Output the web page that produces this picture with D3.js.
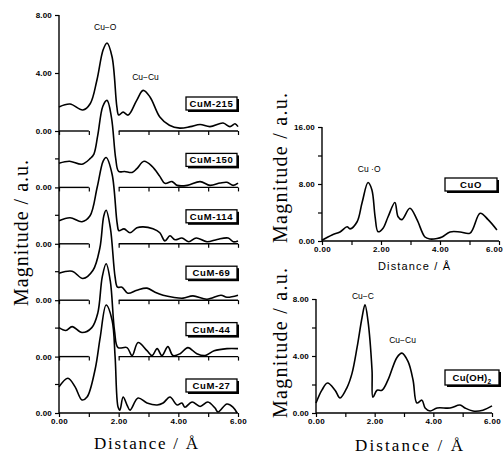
<!DOCTYPE html>
<html><head><meta charset="utf-8">
<script src="https://cdn.jsdelivr.net/npm/d3@7"></script>
<style>
body{margin:0;background:#fff;}
svg{display:block;}
</style></head>
<body>
<svg id="c" width="503" height="454"></svg>
<script>
// ---------- DATA ----------
const sampleNames = ["CuM-215", "CuM-150", "CuM-114", "CuM-69", "CuM-44", "CuM-27"];
const cuM215 = [[0,1.66],[0.37,1.86],[0.8,1.45],[1.05,1.9],[1.27,3.5],[1.48,5.6],[1.61,6.07],[1.78,5.1],[1.94,1.66],[2.0,1.1],[2.15,1.3],[2.32,1.1],[2.6,2.1],[2.82,2.8],[3.05,2.35],[3.38,0.97],[3.7,0.4],[4.05,0.2],[4.4,0.3],[4.73,0.45],[5.06,0.3],[5.5,0.55],[5.73,0.3],[5.9,0.5],[6.0,0.3]];
const cuM150 = [[0,1.66],[0.35,1.8],[0.77,1.6],[1.05,2.0],[1.17,2.3],[1.3,3.6],[1.47,5.6],[1.61,6.0],[1.76,4.8],[1.9,2.0],[2.0,1.1],[2.2,1.1],[2.45,1.03],[2.61,1.3],[2.85,1.8],[3.12,1.45],[3.38,0.76],[3.55,0.28],[3.79,0.4],[3.96,0.14],[4.3,0.14],[4.73,0.4],[5.06,0.14],[5.4,0.3],[5.63,0.35],[5.84,0.14],[6.0,0.3]];
const cuM114 = [[0,1.59],[0.37,1.8],[0.77,1.52],[1.04,1.93],[1.28,3.9],[1.48,5.7],[1.58,5.95],[1.78,4.8],[1.95,1.4],[2.01,0.9],[2.18,1.03],[2.38,0.76],[2.61,1.1],[2.82,1.17],[3.15,1.03],[3.38,0.76],[3.55,0.2],[3.72,0.55],[3.89,0.28],[4.12,0.4],[4.35,0.14],[4.6,0.4],[4.96,0.14],[5.3,0.3],[5.67,0.4],[5.84,0.14],[6.0,0.2]];
const cuM69 = [[0,1.86],[0.44,2.0],[0.8,1.5],[1.14,2.07],[1.37,3.6],[1.5,5.8],[1.58,6.2],[1.72,5.0],[1.88,1.6],[1.96,0.9],[2.11,0.9],[2.31,0.48],[2.61,0.69],[2.95,0.83],[3.22,0.55],[3.49,0.34],[3.82,0.2],[4.16,0.14],[4.49,0.3],[4.96,0.07],[5.43,0.34],[5.63,0.2],[6.0,0.34]];
const cuM44 = [[0,2.0],[0.23,1.8],[0.44,2.07],[0.77,1.66],[1.1,2.0],[1.3,3.0],[1.45,5.5],[1.58,6.4],[1.72,5.2],[1.86,1.8],[1.98,0.62],[2.28,0.62],[2.45,0.07],[2.65,0.97],[2.95,0.41],[3.12,0.07],[3.29,0.55],[3.45,0.07],[3.65,0.69],[3.82,0.07],[4.06,0.2],[4.32,0.62],[4.62,0.2],[4.9,0.07],[5.2,0.4],[5.63,0.55],[6.0,0.55]];
const cuM27 = [[0,1.8],[0.3,2.4],[0.54,1.8],[0.77,0.9],[0.94,1.1],[1.21,3.0],[1.38,5.2],[1.58,7.45],[1.78,6.4],[1.88,3.9],[1.98,0.41],[2.04,0.2],[2.15,1.1],[2.28,0.55],[2.38,0.2],[2.65,1.03],[2.95,0.69],[3.29,0.55],[3.49,0.69],[3.72,1.1],[3.96,0.55],[4.12,0.69],[4.22,0.4],[4.46,0.76],[4.73,0.45],[4.99,0.76],[5.23,0.34],[5.33,0.07],[5.63,0.62],[5.83,0.41],[5.97,0]];
const cuO = [[0,0.1],[0.34,0.85],[0.61,1.27],[0.85,2.0],[0.95,1.7],[1.19,2.7],[1.36,5.4],[1.56,8.2],[1.69,7.2],[1.8,3.4],[1.9,1.3],[2.07,1.8],[2.24,3.4],[2.47,5.4],[2.58,3.4],[2.71,3.0],[2.98,4.6],[3.22,3.0],[3.49,0.56],[3.66,0.28],[3.9,0.35],[4.07,0.56],[4.34,1.27],[4.68,1.27],[5.02,1.1],[5.36,3.9],[5.63,3.0],[5.93,1.55]];
const cuOH2 = [[0,0.7],[0.2,1.6],[0.39,2.1],[0.65,1.6],[0.82,1.05],[1.06,1.8],[1.23,2.8],[1.4,4.6],[1.57,6.7],[1.67,7.6],[1.77,6.5],[1.91,3.0],[1.94,1.1],[2.08,1.6],[2.25,1.6],[2.45,2.3],[2.76,3.9],[2.93,4.2],[3.14,3.6],[3.31,2.3],[3.44,0.7],[3.61,0.9],[3.72,0.35],[3.89,0.14],[4.13,0.35],[4.57,0.35],[4.91,0.56],[5.08,0.35],[5.35,0.14],[5.69,0.2],[6.0,0.5]];
const seriesLeft = [cuM215, cuM150, cuM114, cuM69, cuM44, cuM27];
const xTickLabels = ["0.00", "2.00", "4.00", "6.00"];
const peakLabelsLeft = [["Cu\u2212O", 1.55, 7.0], ["Cu\u2212Cu", 2.9, 3.5]];
const peakLabelsCuO = [["Cu\u00a0\u00b7O", 1.6, 9.7]];
const peakLabelsOH = [["Cu\u2212C", 1.6, 8.0], ["Cu\u2212Cu", 2.95, 4.9]];

// ---------- DRAW ----------
const svg = d3.select("#c");
const tickFont = "Arial, 'Liberation Sans', sans-serif";

function lineGen(x, y) {
  return d3.line().x(d => x(d[0])).y(d => y(d[1])).curve(d3.curveCatmullRom.alpha(0.5));
}
function drawCurve(data, x, y) {
  svg.append("path").datum(data).attr("d", lineGen(x, y))
    .attr("fill", "none").attr("stroke", "#000").attr("stroke-width", 1.6)
    .attr("stroke-linejoin", "round");
}
function xAxis(x, yPos, showLabels, broken, lastShift) {
  const g = svg.append("g").attr("transform", `translate(0,${yPos})`)
    .call(d3.axisBottom(x).tickValues(d3.range(0, 7, 1)).tickSize(4).tickSizeOuter(0)
      .tickFormat(d => (showLabels && d % 2 === 0) ? xTickLabels[d / 2] : ""));
  g.select(".domain").remove();
  g.selectAll(".tick line").attr("stroke", "#000").attr("stroke-width", 1.2);
  g.selectAll(".tick text").attr("font-family", tickFont).attr("font-weight", "bold")
    .attr("font-size", 8).attr("dy", "0.55em").attr("letter-spacing", 0.3)
    .attr("dx", d => (d === 6 && lastShift) ? -lastShift : 0);
  const segs = broken ? [[0, 1], [2, 6]] : [[0, 6]];
  segs.forEach(s => g.append("line").attr("x1", x(s[0])).attr("x2", x(s[1]))
    .attr("stroke", "#000").attr("stroke-width", 1.4));
}
function yAxis(y, xPos, ticks, labeled) {
  const g = svg.append("g").attr("transform", `translate(${xPos},0)`)
    .call(d3.axisLeft(y).tickValues(ticks).tickSize(4).tickSizeOuter(0)
      .tickFormat(d => labeled.includes(d) ? d3.format(".2f")(d) : ""));
  g.select(".domain").remove();
  g.selectAll(".tick line").attr("stroke", "#000").attr("stroke-width", 1.2);
  g.selectAll(".tick text").attr("font-family", tickFont).attr("font-weight", "bold")
    .attr("font-size", 8).attr("letter-spacing", 0.2);
  return g;
}
function boxLabel(text, x0, y0, w, h) {
  svg.append("rect").attr("x", x0 + 2).attr("y", y0 + 2).attr("width", w).attr("height", h).attr("fill", "#000");
  svg.append("rect").attr("x", x0).attr("y", y0).attr("width", w).attr("height", h)
    .attr("fill", "#fff").attr("stroke", "#000").attr("stroke-width", 1.3);
  return svg.append("text").attr("x", x0 + w / 2).attr("y", y0 + h / 2 + 3.5).attr("text-anchor", "middle")
    .attr("font-family", tickFont).attr("font-weight", "bold").attr("font-size", 9.5)
    .attr("letter-spacing", 0.6).text(text);
}
function peakLabel(lbl, x, y) {
  svg.append("text").attr("x", x(lbl[1])).attr("y", y(lbl[2])).attr("text-anchor", "middle")
    .attr("font-family", tickFont).attr("font-size", 8.5).text(lbl[0]);
}
function serifTitle(text, x, y, rot, len, size) {
  svg.append("text").attr("transform", `translate(${x},${y}) rotate(${rot})`)
    .attr("text-anchor", "middle").attr("font-family", "'Liberation Serif', 'Times New Roman', serif")
    .attr("font-size", size).attr("textLength", len).attr("lengthAdjust", "spacing").text(text);
}

// Left stacked panels
const xL = d3.scaleLinear().domain([0, 6]).range([59, 238]);
const baseTop = 131, step = 56.4, pxPerUnit = 14.5;
const yScales = sampleNames.map((n, i) => {
  const b = baseTop + i * step;
  return d3.scaleLinear().domain([0, 8]).range([b, b - 8 * pxPerUnit]);
});
svg.append("line").attr("x1", 59).attr("x2", 59)
  .attr("y1", yScales[0](8)).attr("y2", yScales[5](0)).attr("stroke", "#000").attr("stroke-width", 1.4);
sampleNames.forEach((n, i) => {
  const y = yScales[i];
  if (i === 0) yAxis(y, 59, [0, 4, 8], [0, 4, 8]);
  else yAxis(y, 59, [0, 2], [0]);
  xAxis(xL, y(0), i === 5, i !== 5, 0);
});
seriesLeft.forEach((s, i) => drawCurve(s, xL, yScales[i]));
sampleNames.forEach((n, i) => {
  const b = yScales[i](0);
  boxLabel(n, 186, b - 34, 51, 13);
});
peakLabelsLeft.forEach(l => peakLabel(l, xL, yScales[0]));
serifTitle("Magnitude / a.u.", 28, 233, -90, 146, 20);
serifTitle("Distance / \u00c5", 146, 449, 0, 104, 17);

// Right top panel: CuO
const xT = d3.scaleLinear().domain([0, 6]).range([322, 499]);
const yT = d3.scaleLinear().domain([0, 16]).range([241, 127]);
svg.append("line").attr("x1", 322).attr("x2", 322).attr("y1", yT(16)).attr("y2", yT(0))
  .attr("stroke", "#000").attr("stroke-width", 1.4);
yAxis(yT, 322, [0, 4, 8, 12, 16], [0, 8, 16]);
xAxis(xT, yT(0), true, false, 5);
drawCurve(cuO, xT, yT);
boxLabel("CuO", 445, 178, 52, 13);
peakLabelsCuO.forEach(l => peakLabel(l, xT, yT));
serifTitle("Magnitude / a.u.", 287, 168, -90, 150, 20);
svg.append("text").attr("x", 414).attr("y", 270).attr("text-anchor", "middle")
  .attr("font-family", tickFont).attr("font-size", 11).attr("textLength", 72)
  .attr("lengthAdjust", "spacing").text("Distance / \u00c5");

// Right bottom panel: Cu(OH)2
const xB = d3.scaleLinear().domain([0, 6]).range([316, 492]);
const yB = d3.scaleLinear().domain([0, 8]).range([413, 299]);
svg.append("line").attr("x1", 316).attr("x2", 316).attr("y1", yB(8)).attr("y2", yB(0))
  .attr("stroke", "#000").attr("stroke-width", 1.4);
yAxis(yB, 316, [0, 2, 4, 6, 8], [0, 4, 8]);
xAxis(xB, yB(0), true, false, 0);
drawCurve(cuOH2, xB, yB);
const t = boxLabel("Cu(OH)", 445, 370, 54, 15);
t.attr("letter-spacing", 0.3).append("tspan").attr("font-size", 6.5).attr("dy", 3).text("2");
peakLabelsOH.forEach(l => peakLabel(l, xB, yB));
serifTitle("Magnitude / a.u.", 287, 343, -90, 150, 20);
serifTitle("Distance / \u00c5", 409, 451, 0, 108, 17);
</script>
</body></html>
